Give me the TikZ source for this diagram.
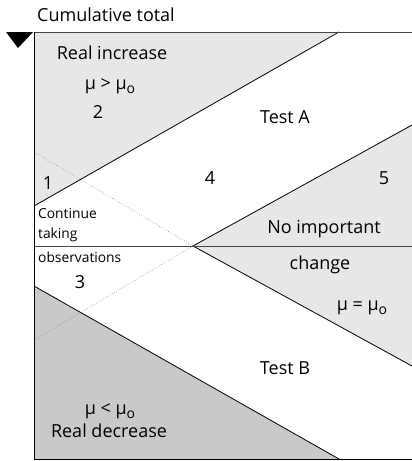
\documentclass[tikz,border=0pt]{standalone}
\usepackage{fontspec}
\setmainfont{Open Sans}
\usetikzlibrary{calc, positioning}

\definecolor{lightgrey}{RGB}{230,231,232}
\definecolor{darkgrey}{RGB}{200,201,203}
\definecolor{framegrey}{RGB}{70,70,70}

\newcommand{\muo}{μ\raisebox{-0.45ex}{\fontsize{14}{14}\selectfont o}}

\tikzset{
  boundary/.style={black, line width=0.8pt},
  guide/.style={gray, dotted, line width=0.6pt},
  label/.style={inner sep=0pt, font=\fontsize{18}{21}\selectfont},
  smalllabel/.style={inner sep=0pt, anchor=west, font=\fontsize{13.8}{16}\selectfont},
}

\begin{document}
\begin{tikzpicture}[x=1pt,y=-1pt]
\useasboundingbox (0,0) rectangle (412,461);
% corners of the chart
\coordinate (TL) at (34,32);
\coordinate (TR) at (412,32);
\coordinate (BL) at (34,459);
\coordinate (BR) at (412,459);
% boundary lines
\coordinate (A1) at (34,206);
\coordinate (A2) at (339,32);
\coordinate (D1) at (34,286);
\coordinate (D2) at (339,459);
\coordinate (C) at (193,246);
\coordinate (E1) at (412,125);
\coordinate (E2) at (412,366);
\coordinate (M1) at (34,246);
\coordinate (M2) at (412,246);
\coordinate (G1) at (34,152);
\coordinate (G2) at (34,340);

\fill[lightgrey] (TL) -- (A2) -- (A1) -- cycle;
\fill[lightgrey] (C) -- (E1) -- (E2) -- cycle;
\fill[darkgrey] (D1) -- (D2) -- (BL) -- cycle;

\draw[guide] (G1) -- (C) -- (G2);
\draw[boundary] (A1) -- (A2);
\draw[boundary] (D1) -- (D2);
\draw[boundary] (E1) -- (C) -- (E2);
\draw[framegrey, line width=0.9pt] (M1) -- (M2);
\draw[framegrey, line width=0.9pt] (TR) -- (TL);
\draw[black, line width=1pt] (TL) -- (BL) -- (BR);

% marker
\fill[black] (6,32) -- (33,32) -- (18,48) -- cycle;

\node[label, anchor=west] (title) at (37,15) {Cumulative total};
\node[label] (incr) at (112,53) {Real increase};
\node[label] (muincr) at (110,86) {μ > \muo};
\node[label] (two) at (98,112) {2};
\node[label] (one) at (48,183) {1};
\node[label] (testa) at (285,117) {Test A};
\node[label] (four) at (210,178) {4};
\node[label] (five) at (384,178) {5};
\node[smalllabel] (cont) at (38,213) {Continue};
\node[smalllabel] (taking) at (38,235) {taking};
\node[smalllabel] (obs) at (38,257) {observations};
\node[label] (three) at (80,282) {3};
\node[label] (noimp) at (324,229) {No important};
\node[label] (change) at (320,265) {change};
\node[label] (mueq) at (362,308) {μ = \muo};
\node[label] (testb) at (285,368) {Test B};
\node[label] (mudec) at (110,411) {μ < \muo};
\node[label] (decr) at (109,431) {Real decrease};
\end{tikzpicture}
\end{document}
